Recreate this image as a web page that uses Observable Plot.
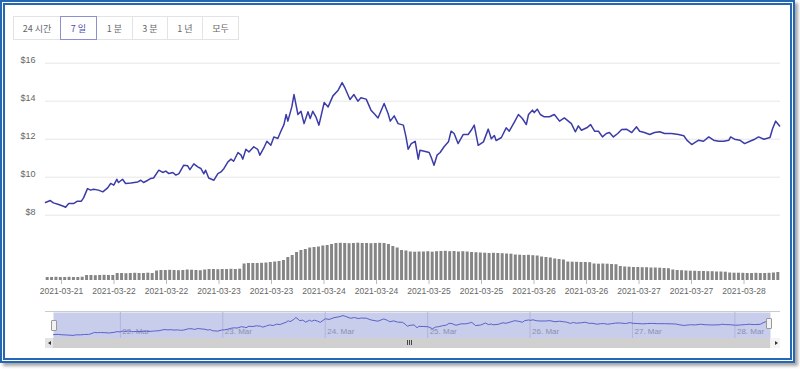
<!DOCTYPE html>
<html><head><meta charset="utf-8">
<script src="https://cdn.jsdelivr.net/npm/d3@7"></script>
<script src="https://cdn.jsdelivr.net/npm/@observablehq/plot@0.6"></script>
<style>
html,body{margin:0;padding:0;background:#fff;width:800px;height:369px;overflow:hidden;font-family:"Liberation Sans",Arial,sans-serif;}
#frame{position:absolute;left:0;top:0;width:785px;height:353px;border:5px double #2468b4;box-shadow:3px 3px 3px rgba(0,0,0,0.35);background:#fff;}
.abs{position:absolute;}
#buttons{position:absolute;left:14px;top:16px;display:flex;z-index:2;}
.btn{box-sizing:border-box;height:24px;border:1px solid #e3e3e3;margin-left:-1px;font:9px "Noto Sans CJK KR",sans-serif;color:#666;display:flex;align-items:center;justify-content:center;background:#fff;}
.btn.sel{border-color:#8d8fd3;color:#4a4ab0;position:relative;z-index:1;}
svg{overflow:visible;}
</style></head>
<body>
<div id="frame"></div>
<div id="buttons"></div>
<div id="pricePlot" class="abs" style="left:0;top:50px;"></div>
<div id="volumePlot" class="abs" style="left:0;top:230px;"></div>
<div id="navPlot" class="abs" style="left:0;top:312px;"></div>
<div class="abs" style="left:45px;top:311px;width:735px;height:1px;background:#cccccc;"></div>
<div class="abs" style="left:45px;top:338px;width:735px;height:10px;background:#f0f0f0;"></div>
<div class="abs" style="left:53px;top:338px;width:717px;height:10px;background:#d0d0d0;"></div>
<div class="abs" style="left:45px;top:338px;width:8px;height:10px;background:#e4e4e4;"></div>
<div class="abs" style="left:48px;top:341px;width:0;height:0;border-top:2px solid transparent;border-bottom:2px solid transparent;border-right:3px solid #333;"></div>
<div class="abs" style="left:771px;top:338px;width:9px;height:10px;background:#f4f4f4;"></div>
<div class="abs" style="left:775px;top:341px;width:0;height:0;border-top:2px solid transparent;border-bottom:2px solid transparent;border-left:3px solid #333;"></div>
<div class="abs" style="left:407px;top:340px;width:1px;height:5px;background:#444;"></div>
<div class="abs" style="left:409px;top:340px;width:1px;height:5px;background:#444;"></div>
<div class="abs" style="left:411px;top:340px;width:1px;height:5px;background:#444;"></div>
<div class="abs" style="left:51px;top:320px;width:4px;height:9px;border:1px solid #999;background:#f2f2f2;border-radius:1px;"></div>
<div class="abs" style="left:766px;top:318px;width:4px;height:9px;border:1px solid #999;background:#f2f2f2;border-radius:1px;"></div>
<script>
// ---- data ----
const rangeButtons = ["24 시간", "7 일", "1 분", "3 분", "1 년", "모두"];
const selectedButton = "7 일";
const startTime = "2021-03-21T08:20:00Z";
// [hours since startTime, price in USD]
const pricePairs = [
[0,8.67],[1.1,8.77],[1.8,8.65],[3.0,8.56],[4.1,8.47],[4.6,8.42],[5.3,8.61],[6.4,8.61],[7.3,8.74],[8.2,8.74],
[8.7,8.91],[9.6,9.40],[10.3,9.32],[11.0,9.37],[12.1,9.32],[13.1,9.23],[14.2,9.44],[14.9,9.67],[15.6,9.58],[16.3,9.89],
[16.7,9.72],[17.6,9.89],[18.3,9.67],[19.5,9.70],[21.1,9.75],[21.8,9.84],[22.4,9.72],[23.4,9.84],[24.0,9.93],[24.7,9.96],
[25.9,10.37],[26.8,10.25],[27.5,10.32],[28.2,10.19],[29.1,10.25],[29.8,10.11],[30.5,10.19],[31.6,10.63],[32.5,10.60],[33.0,10.40],
[33.9,10.70],[34.8,10.54],[35.5,10.46],[36.2,10.18],[36.6,10.37],[37.3,9.96],[38.5,9.84],[39.4,10.19],[40.1,10.28],[40.8,10.46],
[41.7,10.81],[42.4,10.95],[43.0,10.84],[44.0,11.30],[44.7,11.16],[45.1,10.95],[45.8,11.47],[46.5,11.33],[47.6,11.60],[48.5,11.47],
[49.0,11.16],[49.9,11.54],[50.6,11.89],[51.5,11.68],[52.2,12.12],[53.1,12.04],[53.8,12.42],[54.5,12.77],[55.0,13.30],[55.4,12.95],
[56.3,13.70],[56.8,14.35],[57.7,13.30],[58.4,13.47],
[59.1,12.82],[60.0,13.44],[60.5,13.09],[61.1,13.47],[61.8,13.18],[62.5,12.74],[63.7,13.93],[64.6,13.70],[65.7,14.28],[66.9,14.58],
[67.8,14.98],[68.5,14.67],[69.6,14.09],[70.5,14.35],[71.4,14.00],[72.1,14.18],[73.3,14.11],[74.4,13.53],[75.1,13.35],[76.0,13.12],
[77.4,13.88],[78.3,13.35],[78.8,12.95],[79.7,13.23],[80.6,12.82],[81.8,12.74],[82.4,12.12],[82.9,11.47],[83.6,11.77],[84.5,11.89],
[85.2,10.95],[85.6,11.42],[86.6,11.37],[87.7,11.30],[88.2,11.02],[88.8,10.63],[89.5,11.16],[90.2,11.30],[91.1,11.60],[92.1,11.86],
[92.7,12.42],[93.4,12.30],[94.3,11.77],[95.5,12.25],[96.6,12.25],[97.3,12.47],[98.0,12.74],[98.9,11.68],[100.1,11.86],[101.2,12.53],
[101.9,12.02],[102.6,12.19],[103.0,11.93],[104.2,12.09],[105.3,12.60],[106.0,12.42],[107.2,12.91],[108.1,13.30],[109.0,13.09],[109.9,12.77],
[110.4,13.30],[111.3,13.53],[111.7,13.40],[112.4,13.58],[113.1,13.30],
[114.0,13.18],[115.2,13.18],[116.3,13.30],[117.5,12.95],[118.6,13.12],[119.5,12.95],[120.2,12.82],[121.1,12.39],[121.8,12.70],[122.5,12.47],
[123.7,12.60],[124.6,12.77],[125.5,12.42],[126.4,12.42],[127.3,12.12],[128.2,12.30],[128.9,12.35],[129.8,12.12],[130.8,12.30],[131.7,12.51],
[132.8,12.53],[134.0,12.35],[135.1,12.65],[135.8,12.42],[136.9,12.35],[138.1,12.25],[139.2,12.35],[140.4,12.39],[141.5,12.30],[143.1,12.30],
[144.7,12.25],[145.9,12.18],[146.6,11.95],[147.7,11.72],[148.4,11.82],[149.3,11.95],[150.4,11.89],[151.6,12.12],[152.7,11.95],[153.9,11.89],
[155.0,11.89],[156.2,11.95],[156.6,12.12],[157.5,12.00],[158.7,11.95],[159.8,11.77],[161.0,11.89],[162.1,12.00],[163.0,12.12],[164.2,12.00],
[165.6,12.09],[166.2,12.56],[166.9,12.95],[167.8,12.70]
];
// hourly trading volume (relative units), one value per hour from startTime
const volumeValues = [
3,3,3.2,3,3,3.2,3,3,3.3,
5,5,4.8,5,5.2,5,5,
7,7,6.8,7,7.2,7,7,7.3,7,
9.5,10,10,10.2,10,9.8,10,10.5,10.3,10,9.8,
10.5,11,11,10.8,11,11,11.2,11,11.3,
16.5,17,17,17,17.2,17.5,
18,18.5,19,20,
23,25,28,30,31,
32.5,33,33.5,34.5,35,36,
37,37.2,37,36.8,37,37.3,37,37,36.8,37,37.2,37,
36,34,32.5,30,29.5,28.5,28.3,28.5,
28.5,28.8,28.3,28.8,29,29.2,28.8,29,28.5,28.8,28.5,28,27.8,
27.5,27.3,27,27.2,27,26.8,26.5,26.3,
25.5,25.3,25,25.2,24.8,24.5,
23.5,23,22.5,21.5,21,20.5,
18.5,18.3,18.2,18,18,17.8,
16.5,16.3,16.5,16.3,16,15.8,
14,13.5,13.3,13,13,12.8,12.8,12.5,12.5,12.3,12,11.8,
10.5,10,9.8,9.5,9.3,9.2,9,9,8.8,8.8,8.5,8.5,8.3,
7.5,7.3,7.3,7.2,7,7,7.2,7,7,7.2,7.5,8
];
const priceTicks = [8, 10, 12, 14, 16];
const xTickDates = ["2021-03-21T12:00Z","2021-03-22T00:00Z","2021-03-22T12:00Z","2021-03-23T00:00Z","2021-03-23T12:00Z",
  "2021-03-24T00:00Z","2021-03-24T12:00Z","2021-03-25T00:00Z","2021-03-25T12:00Z","2021-03-26T00:00Z",
  "2021-03-26T12:00Z","2021-03-27T00:00Z","2021-03-27T12:00Z","2021-03-28T00:00Z"];
const navigatorDays = ["2021-03-22","2021-03-23","2021-03-24","2021-03-25","2021-03-26","2021-03-27","2021-03-28"];

// ---- build ----
const HOUR = 3600e3;
const t0 = new Date(startTime);
const t1 = new Date(+t0 + volumeValues.length * HOUR);
const price = pricePairs.map(([h, v]) => ({t: new Date(+t0 + h * HOUR), v}));
const volume = volumeValues.map((v, i) => ({a: new Date(+t0 + i * HOUR), b: new Date(+t0 + (i + 1) * HOUR), v}));
const xTicks = xTickDates.map(d => new Date(d));
const navTicks = navigatorDays.map(d => new Date(d));
const font = {fontFamily: "'Liberation Sans', Arial, sans-serif", background: "transparent", overflow: "visible"};

const btnWidths = [48, 37, 37, 36, 36, 37];
const bd = document.getElementById("buttons");
rangeButtons.forEach((b, i) => {
  const el = document.createElement("div");
  el.className = "btn" + (b === selectedButton ? " sel" : "");
  el.style.width = btnWidths[i] + "px";
  el.textContent = b;
  bd.appendChild(el);
});

const pricePlot = Plot.plot({
  width: 790, height: 170, marginLeft: 45, marginRight: 10, marginTop: 12.7, marginBottom: 5.3,
  style: font,
  x: {type: "utc", domain: [t0, t1], axis: null},
  y: {domain: [8, 16], axis: null},
  marks: [
    Plot.gridY(priceTicks, {stroke: "#e6e6e6", strokeOpacity: 1}),
    Plot.axisY(priceTicks, {tickSize: 0, tickPadding: 10, dy: -3.5, tickFormat: d => "$" + d, fontSize: 9, fill: "#666", label: null}),
    Plot.lineY(price, {x: "t", y: "v", stroke: "#3c3ca8", strokeWidth: 1.5})
  ]
});
document.getElementById("pricePlot").appendChild(pricePlot);

const volumePlot = Plot.plot({
  width: 790, height: 70, marginLeft: 45, marginRight: 10, marginTop: 10, marginBottom: 20,
  style: font,
  x: {type: "utc", domain: [t0, t1], axis: null},
  y: {domain: [0, 40], axis: null},
  marks: [
    Plot.rectY(volume, {x1: "a", x2: "b", y: "v", fill: "#858585", insetLeft: 0.7, insetRight: 0.7}),
    Plot.axisX(xTicks, {tickSize: 4, tickPadding: 3, tickFormat: d3.utcFormat("%Y-%m-%d"), fontSize: 8.5, fill: "#666", stroke: "#bbb", label: null})
  ]
});
document.getElementById("volumePlot").appendChild(volumePlot);

const navPlot = Plot.plot({
  width: 790, height: 26, marginLeft: 53, marginRight: 20, marginTop: 0, marginBottom: 0,
  style: font,
  x: {type: "utc", domain: [t0, t1], axis: null},
  y: {domain: [7.4, 16], axis: null},
  marks: [
    Plot.frame({fill: "#c8cdec", stroke: null}),
    Plot.gridX(navTicks, {stroke: "#aab0d8", strokeOpacity: 0.8}),
    Plot.text(navTicks, {x: d => d, frameAnchor: "bottom", dy: -5, dx: 2, textAnchor: "start", text: d3.utcFormat("%d. %b"), fontSize: 8, fill: "#8a8fb0"}),
    Plot.lineY(price, {x: "t", y: "v", stroke: "#5a62c8", strokeWidth: 1})
  ]
});
document.getElementById("navPlot").appendChild(navPlot);
</script>
</body></html>
